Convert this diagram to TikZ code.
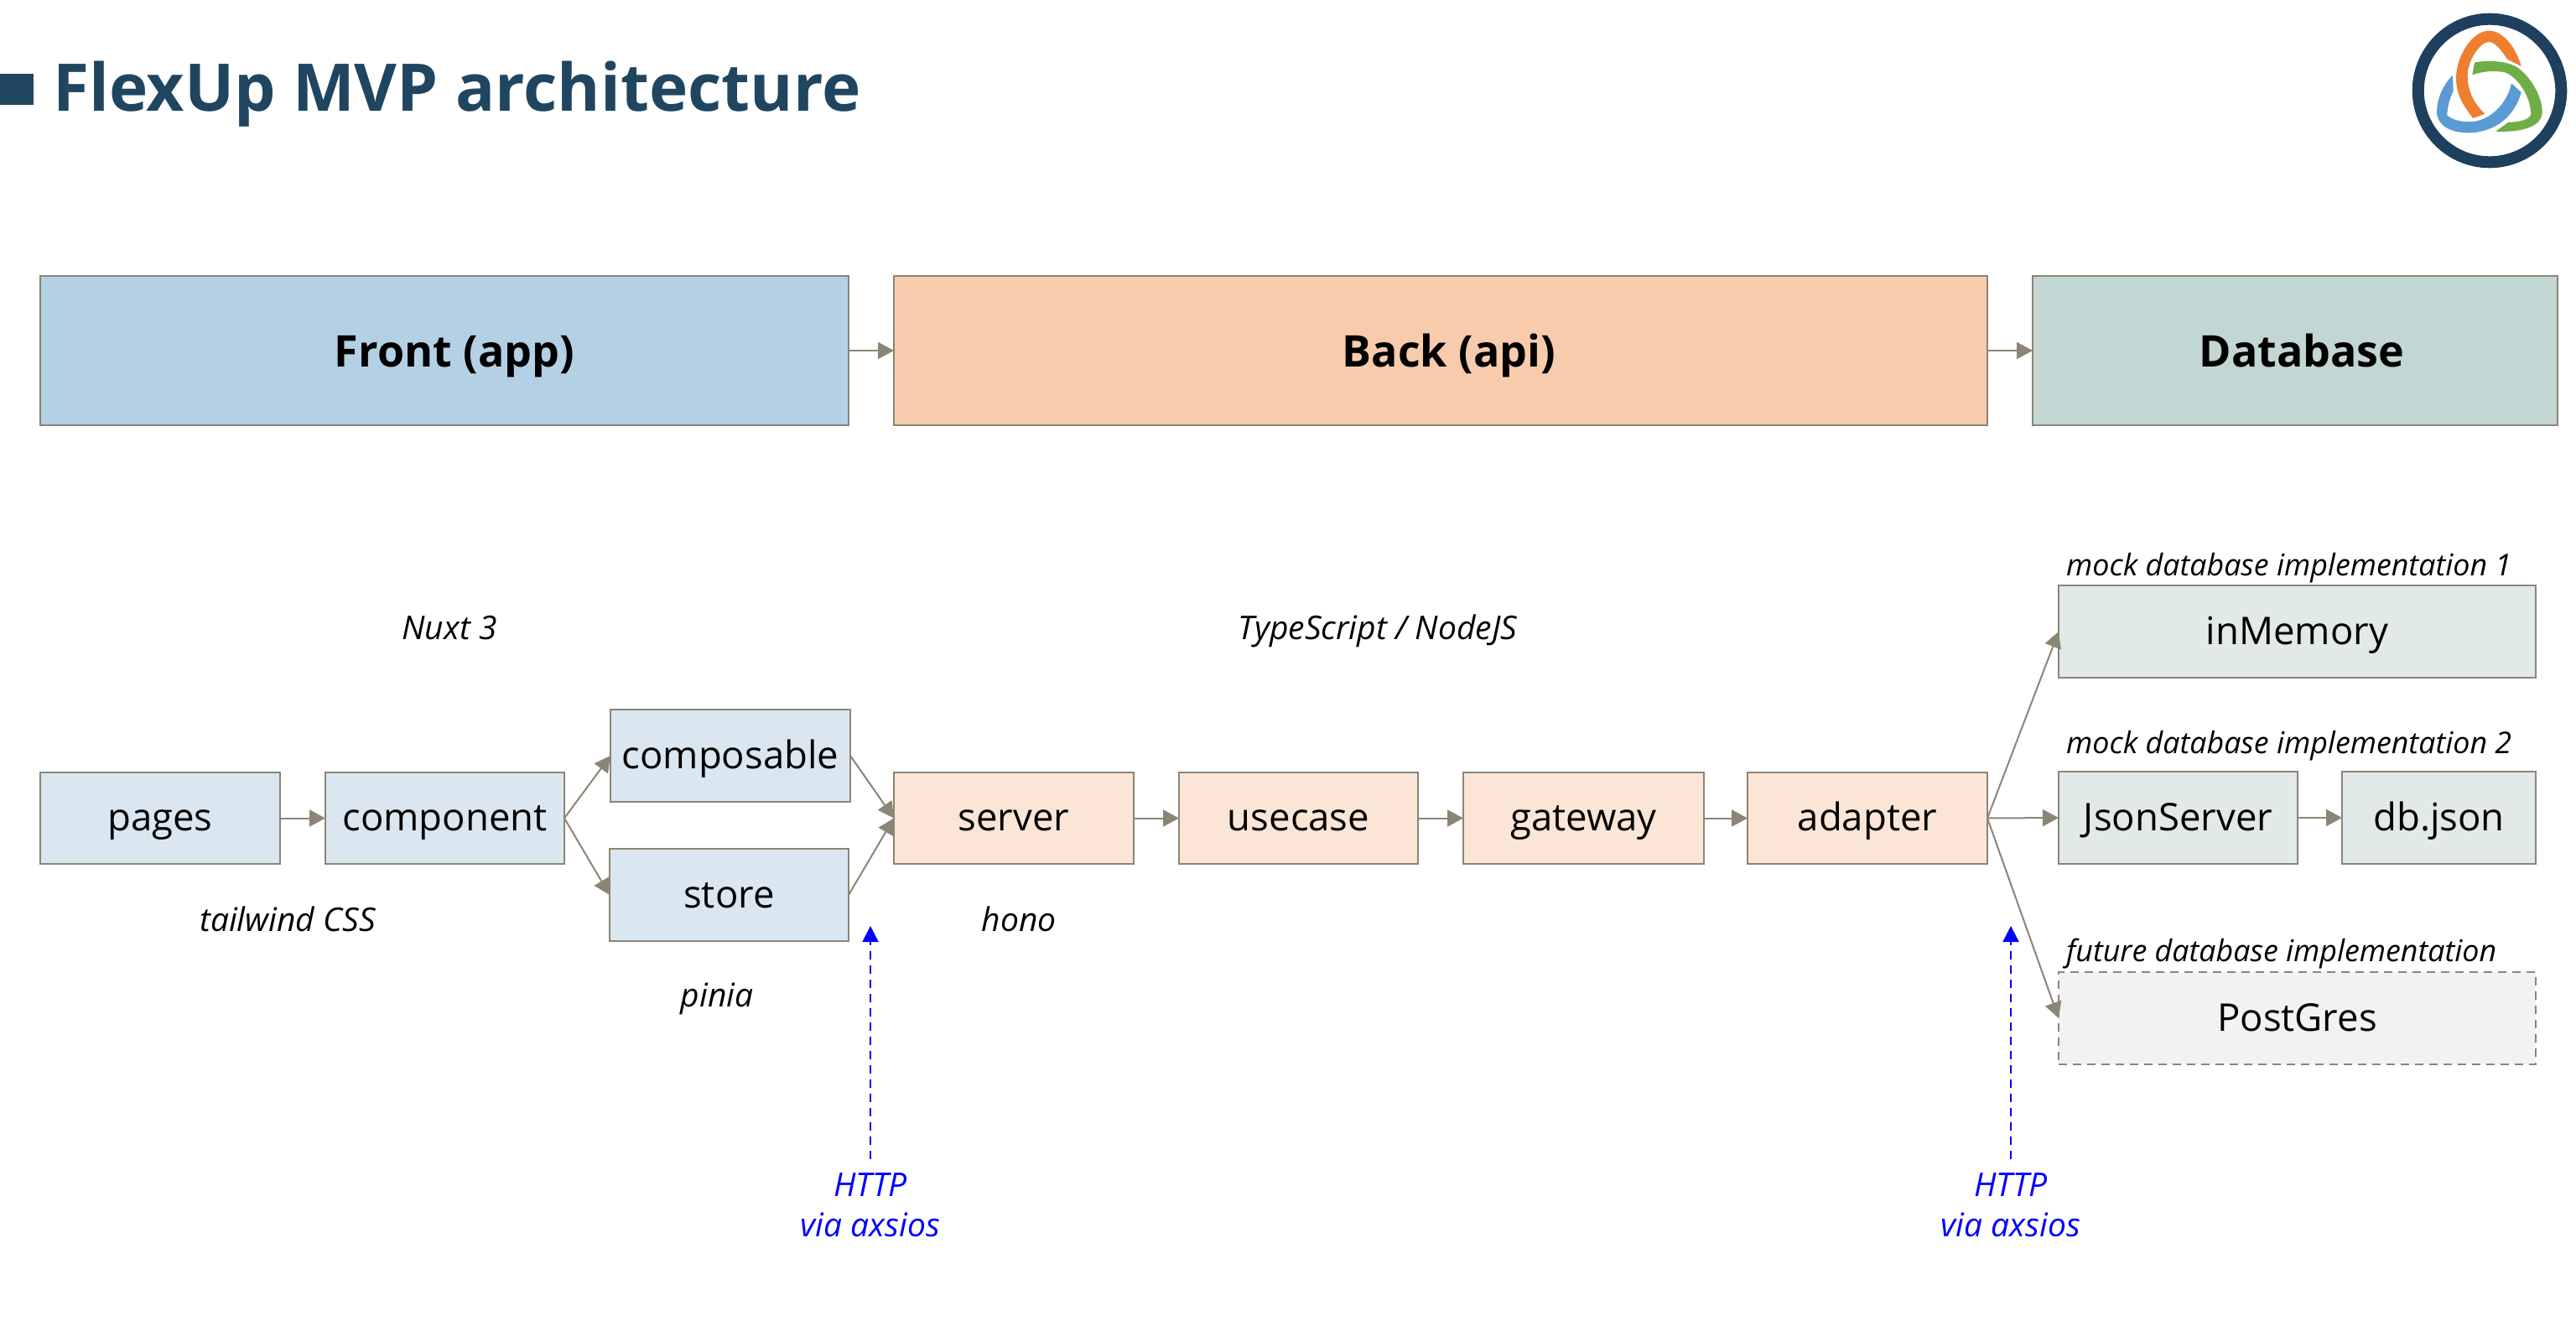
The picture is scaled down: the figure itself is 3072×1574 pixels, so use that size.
\documentclass[tikz,border=0pt]{standalone}
\usepackage{fontspec}
\setmainfont{Open Sans}
\usetikzlibrary{arrows.meta}
\definecolor{edge}{HTML}{8B8575}
\definecolor{navy}{HTML}{204560}
\definecolor{ringc}{HTML}{1E3F5E}
\definecolor{frontc}{HTML}{B4D0E4}
\definecolor{backc}{HTML}{F8CBAD}
\definecolor{dbc}{HTML}{C2D6D4}
\definecolor{frontl}{HTML}{DAE7F0}
\definecolor{backl}{HTML}{FBE5D6}
\definecolor{dbl}{HTML}{E1EAE9}
\definecolor{greyl}{HTML}{F2F2F2}
\definecolor{lorange}{HTML}{EE7F31}
\definecolor{lgreen}{HTML}{70AD47}
\definecolor{lblue}{HTML}{5B9BD5}
\tikzset{
  box/.style={draw=edge,line width=2pt,inner sep=0pt,outer sep=0pt,font=\fontsize{45.5}{50}\selectfont,text height=40pt,text depth=10pt},
  bigbox/.style={box,font=\fontsize{52}{56}\selectfont\bfseries,text height=48pt,text depth=10pt},
  link/.style={draw=edge,line width=2pt,-{Triangle[length=19pt,width=20pt]}},
  http/.style={draw=blue,line width=2pt,dash pattern=on 10pt off 7pt,-{Triangle[length=19pt,width=19pt]}},
  note/.style={font=\fontsize{39}{42}\selectfont\itshape,inner sep=0pt,anchor=base},
  notel/.style={note,font=\fontsize{35.8}{40}\selectfont\itshape,anchor=base west},
  httpl/.style={note,text=blue}
}
\newcommand\bx[7]{%
  \pgfmathsetmacro\bw{#4-#2}\pgfmathsetmacro\bh{#5-#3}%
  \pgfmathsetmacro\bcx{(#2+#4)/2}\pgfmathsetmacro\bcy{(#3+#5)/2}%
  \node[#6,minimum width=\bw pt,minimum height=\bh pt] (#1) at (\bcx,\bcy) {#7};}
\begin{document}
\begin{tikzpicture}[x=1pt,y=-1pt]
\useasboundingbox (0,0) rectangle (3072,1574);
% title
\fill[navy] (0,88) rectangle (40,125);
\node[inner sep=0pt,anchor=base west,text=navy,font=\fontsize{78.3}{84}\selectfont\bfseries] (title) at (63,132) {FlexUp MVP architecture};
% logo
\draw[ringc,line width=14pt] (2969,108) circle (85.3);
\begin{scope}[shift={(2880,0)},x=0.3333pt,y=-0.3333pt]
\fill[lorange] (208,423) .. controls (165,370) and (147,330) .. (147,280)
  .. controls (147,200) and (205,110) .. (265,110)
  .. controls (320,110) and (365,180) .. (380,237)
  -- (330,212) .. controls (310,180) and (285,150) .. (265,150)
  .. controls (230,150) and (188,220) .. (188,270)
  .. controls (188,330) and (215,375) .. (250,407) -- cycle;
\fill[lgreen] (205,268) -- (213,224) .. controls (250,215) and (320,215) .. (365,240)
  .. controls (420,280) and (455,350) .. (455,400)
  .. controls (455,450) and (390,475) .. (288,470)
  -- (335,437) .. controls (380,437) and (415,425) .. (415,405)
  .. controls (410,340) and (370,280) .. (325,260)
  .. controls (290,250) and (240,255) .. (205,268) -- cycle;
\fill[lblue] (135,270) -- (137,325) .. controls (125,350) and (115,385) .. (115,412)
  .. controls (135,430) and (165,437) .. (205,435)
  .. controls (270,430) and (330,370) .. (345,298)
  -- (380,330) .. controls (360,410) and (290,475) .. (190,475)
  .. controls (130,475) and (78,450) .. (78,400)
  .. controls (78,350) and (105,295) .. (135,270) -- cycle;
\end{scope}
% top row
\bx{front}{48}{329}{1012}{507}{bigbox,fill=frontc}{\hspace*{24pt}Front (app)}
\bx{back}{1066}{329}{2370}{507}{bigbox,fill=backc}{\hspace*{20pt}Back (api)}
\bx{database}{2424}{329}{3050}{507}{bigbox,fill=dbc}{\hspace*{16pt}Database}
% detail row
\bx{pages}{48}{921}{334}{1030}{box,fill=frontl}{pages}
\bx{component}{388}{921}{673}{1030}{box,fill=frontl}{component}
\bx{composable}{728}{846}{1014}{956}{box,fill=frontl}{composable}
\bx{store}{727}{1012}{1012}{1122}{box,fill=frontl}{store}
\bx{server}{1066}{921}{1352}{1030}{box,fill=backl}{server}
\bx{usecase}{1406}{921}{1691}{1030}{box,fill=backl}{usecase}
\bx{gateway}{1745}{921}{2032}{1030}{box,fill=backl}{gateway}
\bx{adapter}{2084}{921}{2370}{1030}{box,fill=backl}{adapter}
\bx{inmemory}{2455}{698}{3024}{808}{box,fill=dbl}{inMemory}
\bx{jsonserver}{2455}{920}{2740}{1030}{box,fill=dbl}{JsonServer}
\bx{dbjson}{2793}{920}{3024}{1030}{box,fill=dbl}{db.json}
\bx{postgres}{2455}{1159}{3024}{1269}{box,fill=greyl,dash pattern=on 10pt off 7pt}{PostGres}
% connectors
\draw[link] (front.east) -- (back.west);
\draw[link] (back.east) -- (database.west);
\draw[link] (pages.east) -- (component.west);
\draw[link] (component.east) -- (composable.west);
\draw[link] (component.east) -- (store.west);
\draw[link] (composable.east) -- (server.west);
\draw[link] (store.east) -- (server.west);
\draw[link] (server.east) -- (usecase.west);
\draw[link] (usecase.east) -- (gateway.west);
\draw[link] (gateway.east) -- (adapter.west);
\draw[link] (adapter.east) -- (inmemory.west);
\draw[link] (adapter.east) -- (jsonserver.west);
\draw[link] (adapter.east) -- (postgres.west);
\draw[link] (jsonserver.east) -- (dbjson.west);
% notes
\node[note] (nuxt) at (536,762) {Nuxt 3};
\node[note] (ts) at (1643,762) {TypeScript / NodeJS};
\node[note] (tailwind) at (343,1110) {tailwind CSS};
\node[note] (pinia) at (855,1200) {pinia};
\node[note] (hono) at (1215,1110) {hono};
\node[notel] (mock1) at (2464,686) {mock database implementation 1};
\node[notel] (mock2) at (2464,898) {mock database implementation 2};
\node[notel] (future) at (2464,1146) {future database implementation};
% http
\node[httpl] (http1) at (1038,1426) {HTTP};
\node[httpl] (via1) at (1038,1474) {via axsios};
\node[httpl] (http2) at (2398,1426) {HTTP};
\node[httpl] (via2) at (2398,1474) {via axsios};
\coordinate (h1s) at (1038,1382);
\coordinate (h1e) at (1038,1104);
\coordinate (h2s) at (2398,1382);
\coordinate (h2e) at (2398,1104);
\draw[http] (h1s) -- (h1e);
\draw[http] (h2s) -- (h2e);
\end{tikzpicture}
\end{document}
